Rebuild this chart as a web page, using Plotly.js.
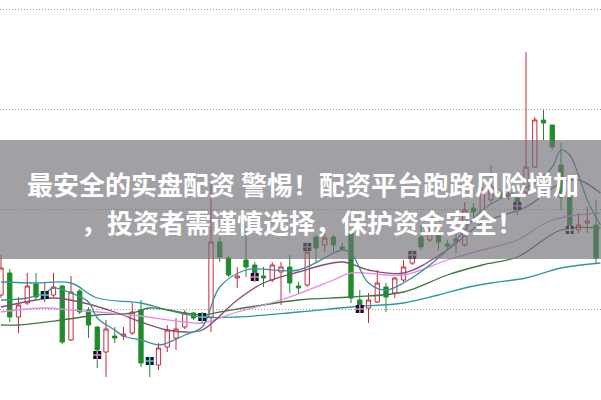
<!DOCTYPE html>
<html><head><meta charset="utf-8">
<script src="https://cdn.plot.ly/plotly-3.0.1.min.js"></script>
<style>html,body{margin:0;padding:0;background:#fff}#chart{width:601px;height:400px}</style>
</head><body><div id="chart"></div>
<script>
// Candle data (price units)
const openP  = [9.14,9.36,8.92,9.06,9.25,9.13,9.14,9.23,8.69,9.18,8.99,8.82,8.57,8.73,8.73,8.76,8.99,8.50,8.44,8.62,8.71,8.82,8.96,8.89,8.92,9.67,9.51,9.31,9.49,9.44,9.33,9.29,9.37,9.42,9.23,9.24,9.72,9.64,9.72,9.62,9.76,9.09,9.01,9.07,9.22,9.16,9.29,9.46,9.72,9.69,9.76,9.65,9.70,9.64,10.01,9.96,10.09,10.17,10.13,10.11,10.17,10.42,10.89,10.84,10.44,10.12,9.79,9.86,9.84];
const highP  = [9.54,9.40,9.12,9.36,9.36,9.27,9.36,9.24,9.33,9.20,9.02,8.83,8.89,8.82,8.82,9.06,9.09,8.52,8.66,8.84,8.91,8.99,8.97,8.97,10.29,9.72,9.53,9.42,9.82,9.47,9.42,9.47,9.47,9.54,9.27,9.66,9.74,9.77,9.74,9.66,9.77,9.19,9.16,9.39,9.26,9.32,9.49,9.59,9.84,9.81,9.81,9.69,9.81,10.07,10.06,10.22,10.44,10.20,10.20,10.12,11.57,10.92,10.99,10.84,10.66,10.16,9.96,10.02,10.09];
const lowP   = [9.11,8.87,8.76,9.04,9.09,9.07,9.12,8.65,8.68,8.95,8.71,8.41,8.32,8.66,8.69,8.74,8.42,8.32,8.39,8.57,8.59,8.80,8.89,8.85,8.77,9.47,9.32,9.21,9.32,9.27,9.22,9.27,9.04,9.16,9.16,9.22,9.47,9.57,9.57,9.59,9.06,8.97,8.86,9.06,8.97,9.11,9.27,9.44,9.59,9.67,9.59,9.59,9.56,9.62,9.87,9.92,10.06,10.11,10.09,9.94,10.14,10.41,10.69,10.59,9.99,9.76,9.76,9.76,9.46];
const closeP = [9.41,8.92,9.04,9.23,9.12,9.16,9.22,8.67,9.17,8.97,8.84,8.59,8.80,8.71,8.75,8.97,8.46,8.46,8.61,8.79,8.80,8.96,8.91,8.95,9.67,9.52,9.34,9.33,9.42,9.31,9.31,9.44,9.42,9.26,9.21,9.57,9.61,9.71,9.64,9.60,9.11,9.02,9.09,9.26,9.12,9.31,9.42,9.52,9.62,9.79,9.67,9.63,9.68,9.99,9.97,10.19,10.22,10.12,10.15,10.03,10.42,10.89,10.86,10.62,10.12,9.81,9.84,9.88,9.51];

// signal marks (black squares)
const markIdx   = [5,11,17,23,29,35,41,47,59,65];
const markPrice = [9.14,8.54,8.48,8.92,9.32,9.62,9.00,9.54,10.03,9.79];
const markTint  = ['#3fd0e0','#e080e0','#3fd0e0','#3fd0e0','#e080e0','#9090a0','#e080e0','#e080e0','#e080e0','#ffffff'];

const ma5X  = [0,3,5,6,8,10,11,13,14,16,18,19,21,23,25,28,34,39,40,42,44,46,51,55,58,61,63,64,65,66,67,68.5];
const ma5Y  = [9.09,9.11,9.16,9.21,9.16,9.07,8.91,8.79,8.73,8.69,8.64,8.66,8.74,8.82,9.22,9.39,9.39,9.59,9.56,9.26,9.19,9.26,9.59,9.99,10.14,10.26,10.42,10.59,10.54,10.34,10.09,9.84];
const ma10X = [0,4,6,9,13,16,19,21,23,27,30,34,39,42,46,51,55,60,64,66,68.5];
const ma10Y = [9.02,9.09,9.11,9.07,8.97,8.87,8.79,8.77,8.79,9.09,9.26,9.37,9.47,9.39,9.36,9.59,9.86,10.02,10.26,10.29,10.16];
const ma20X = [0,5,8,11,15,21,23,27,32,38,40,46,51,55,59,63,68.5];
const ma20Y = [8.97,9.01,8.99,8.97,8.94,8.87,8.86,8.97,9.09,9.29,9.36,9.34,9.49,9.59,9.69,9.89,9.96];
const ma30X = [0,2,7,11,15,17,23,25,34,40,46,51,55,59,64,68.5];
const ma30Y = [8.84,8.84,8.89,8.94,8.96,9.01,8.94,8.97,9.09,9.12,9.17,9.34,9.44,9.52,9.79,9.81];
const ma60X = [0,4,8,11,16,19,23,27,34,40,46,50,53,56,60,64,68.5];
const ma60Y = [9.27,9.26,9.26,9.11,9.06,8.99,8.92,8.92,8.97,9.02,9.06,9.14,9.21,9.26,9.31,9.41,9.46];

const red = '#c8283a', green = '#1f8c2a';
const traces = [
  {type:'scatter',mode:'lines',x:ma60X,y:ma60Y,line:{color:'#2a9a9e',width:1.3,shape:'spline'},hoverinfo:'skip'},
  {type:'scatter',mode:'lines',x:ma30X,y:ma30Y,line:{color:'#3c7a3c',width:1.3,shape:'spline'},hoverinfo:'skip'},
  {type:'scatter',mode:'lines',x:ma20X,y:ma20Y,line:{color:'#e48ae4',width:1.3,shape:'spline'},hoverinfo:'skip'},
  {type:'scatter',mode:'lines',x:ma10X,y:ma10Y,line:{color:'#8a4a78',width:1.3,shape:'spline'},hoverinfo:'skip'},
  {type:'scatter',mode:'lines',x:ma5X,y:ma5Y,line:{color:'#3d8f9c',width:1.3,shape:'spline'},hoverinfo:'skip'},
  {type:'candlestick',x:openP.map((_,i)=>i),open:openP,high:highP,low:lowP,close:closeP,
   increasing:{line:{color:red,width:1},fillcolor:'#ffffff'},
   decreasing:{line:{color:green,width:1},fillcolor:green},whiskerwidth:0,hoverinfo:'skip'},
  {type:'scatter',mode:'markers',x:markIdx,y:markPrice,marker:{symbol:'square',size:8,color:'#111'},hoverinfo:'skip'},
  {type:'scatter',mode:'markers',x:markIdx,y:markPrice,marker:{symbol:'cross-thin',size:6,line:{color:markTint,width:1.5}},hoverinfo:'skip'}
];
const layout = {
  width:601,height:400,margin:{l:0,r:0,t:0,b:0},showlegend:false,
  paper_bgcolor:'#fff',plot_bgcolor:'#fff',
  xaxis:{range:[-0.114,68.571],showgrid:false,zeroline:false,showticklabels:false,ticks:'',rangeslider:{visible:false},fixedrange:true},
  yaxis:{range:[8.09,12.09],tickvals:[9,10,11,12],showticklabels:false,ticks:'',zeroline:false,
         showgrid:true,gridcolor:'#9a9a9a',gridwidth:1,griddash:'1px,2px',fixedrange:true},
  shapes:[{type:'rect',xref:'paper',yref:'paper',x0:0,x1:1,y0:0.3525,y1:0.65,layer:'above',
           line:{width:0},fillcolor:'rgba(112,112,118,0.66)'}],
  annotations:[
    {xref:'paper',yref:'paper',x:(27+578)/2/601,y:(400-183)/400,text:'最安全的实盘配资 警惕！配资平台跑路风险增加',showarrow:false,
     font:{family:'Noto Sans CJK SC',size:26,color:'#fff',weight:700},xanchor:'center',yanchor:'middle'},
    {xref:'paper',yref:'paper',x:(88+515)/2/601,y:(400-222)/400,text:'，投资者需谨慎选择，保护资金安全！',showarrow:false,
     font:{family:'Noto Sans CJK SC',size:26,color:'#fff',weight:700},xanchor:'center',yanchor:'middle'}
  ]
};
Plotly.newPlot('chart',traces,layout,{staticPlot:true,displayModeBar:false});
</script></body></html>
